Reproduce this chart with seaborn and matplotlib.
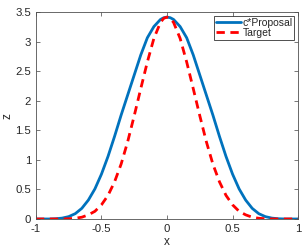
# c*Proposal vs Target density plot

import matplotlib
matplotlib.use("Agg")
import matplotlib.pyplot as plt
import seaborn as sns
import pandas as pd

# x grid and curve values
x_vals = [-1.0, -0.95, -0.9, -0.85, -0.8, -0.75, -0.7, -0.65, -0.6, -0.55,
          -0.5, -0.45, -0.4, -0.35, -0.3, -0.25, -0.2, -0.15, -0.1, -0.05,
          -0.025, 0.0, 0.025,
          0.05, 0.1, 0.15, 0.2, 0.25, 0.3, 0.35, 0.4, 0.45, 0.5,
          0.55, 0.6, 0.65, 0.7, 0.75, 0.8, 0.85, 0.9, 0.95, 1.0]

proposal = [0.0, 0.0, 0.0, 0.004, 0.015, 0.04, 0.09, 0.18, 0.32, 0.51,
            0.76, 1.06, 1.40, 1.76, 2.10, 2.44, 2.78, 3.07, 3.26, 3.38,
            3.41, 3.42, 3.41,
            3.38, 3.26, 3.07, 2.78, 2.44, 2.10, 1.76, 1.40, 1.06, 0.76,
            0.51, 0.32, 0.18, 0.09, 0.04, 0.015, 0.004, 0.0, 0.0, 0.0]

target = [0.0, 0.0, 0.0, 0.0, 0.0, 0.004, 0.012, 0.03, 0.07, 0.13,
          0.24, 0.40, 0.63, 0.93, 1.31, 1.75, 2.21, 2.66, 3.06, 3.33,
          3.40, 3.42, 3.40,
          3.33, 3.06, 2.66, 2.21, 1.75, 1.31, 0.93, 0.63, 0.40, 0.24,
          0.13, 0.07, 0.03, 0.012, 0.004, 0.0, 0.0, 0.0, 0.0, 0.0]

x_ticks = [-1, -0.5, 0, 0.5, 1]
x_labels = ["-1", "-0.5", "0", "0.5", "1"]
y_ticks = [0, 0.5, 1, 1.5, 2, 2.5, 3, 3.5]
y_labels = ["0", "0.5", "1", "1.5", "2", "2.5", "3", "3.5"]

df = pd.DataFrame({"x": x_vals, "proposal": proposal, "target": target})

sns.set_style("white")
plt.rcParams['font.family'] = ['Liberation Sans', 'DejaVu Sans']

fig = plt.figure(figsize=(3.07, 2.48), dpi=100)
ax = fig.add_axes([0.117, 0.117, 0.854, 0.833])

sns.lineplot(data=df, x="x", y="proposal", ax=ax, color="#0072BD",
             linewidth=2.0, label="c*Proposal")
sns.lineplot(data=df, x="x", y="target", ax=ax, color="#FF0000",
             linewidth=2.0, linestyle=(0, (3.0, 2.0)), label="Target")

ax.set_xlim(-1, 1)
ax.set_ylim(0, 3.5)
ax.set_xticks(x_ticks)
ax.set_xticklabels(x_labels)
ax.set_yticks(y_ticks)
ax.set_yticklabels(y_labels)
ax.tick_params(direction="in", length=3, width=0.5, labelsize=8.2,
               top=True, right=True, bottom=True, left=True,
               colors="#404040", labelcolor="#262626", pad=3.5)
for s in ax.spines.values():
    s.set_color("#505050")
    s.set_linewidth(0.6)

ax.set_xlabel("x", fontsize=8.5, labelpad=1.5)
ax.set_ylabel("z", fontsize=8.5, labelpad=1)

leg = ax.legend(loc="upper right", fontsize=7.5, frameon=True, fancybox=False,
                edgecolor="black", borderpad=0.15, labelspacing=0.05,
                handlelength=2.4, handletextpad=0.2, borderaxespad=0.35)
leg.get_frame().set_linewidth(0.6)

fig.savefig("out.png", dpi=100)
